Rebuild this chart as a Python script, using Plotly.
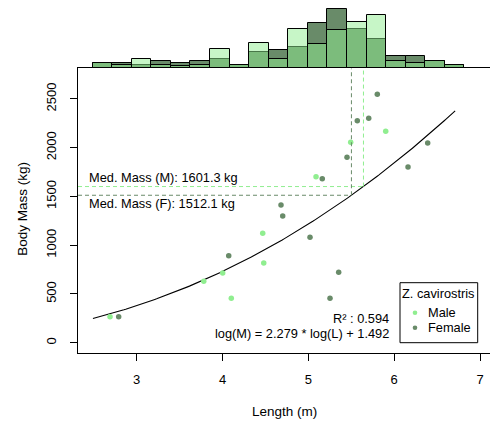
import numpy as np
import plotly.graph_objects as go

# ---------------- data ----------------
male_len = [2.689, 3.781, 4.002, 4.102, 4.468, 4.480, 5.089, 5.493, 5.901]
male_mass = [267, 630, 715, 455, 1122, 817, 1703, 2055, 2168]
female_len = [2.790, 4.072, 4.681, 4.701, 5.019, 5.252, 5.353, 5.162,
              5.450, 5.570, 5.703, 5.803, 6.161, 6.390]
female_mass = [267, 892, 1412, 1299, 1081, 455, 722, 1682,
               1902, 2277, 2302, 2548, 1802, 2048]

# histogram (relative frequencies)
hist_start = 2.487
hist_width = 0.2279
female_freq = [5.0, 5.7, 3.3, 7.0, 5.7, 7.0, 9.0, 3.7, 16.3, 18.0, 21.3,
               45.0, 59.3, 39.7, 29.0, 12.7, 12.7, 7.0, 3.7]
male_freq = [5.0, 3.0, 9.0, 3.0, 2.0, 3.0, 19.3, 3.7, 25.0, 9.0, 39.0,
             24.7, 38.7, 46.0, 53.0, 7.0, 5.0, 7.0, 3.7]

med_mass_m = 1601.3
med_mass_f = 1512.1
fit_slope = 2.279
fit_int = 1.492
r2 = 0.594
fit_len_range = [2.49, 6.71]

x_ticks = [3, 4, 5, 6, 7]
y_ticks = [0, 500, 1000, 1500, 2000, 2500]

# ---------------- styling ----------------
MALE = "#90EE90"
FEMALE = "#698B69"
FONT = "Liberation Sans"
XR = [2.316, 7.116]
YR = [-105.6, 2814]
W, H = 490, 427
ML, MR, MT, MB = 78, 0, 0, 74
PW, PH = W - ML - MR, H - MT - MB
split = (PH - 68.3) / PH


def px(xp):
    return (xp - ML) / PW


def py(yp):
    return (PH - yp) / PH


def fit(L):
    return 10 ** fit_int * np.asarray(L) ** fit_slope


def inv_fit(M):
    return (M / 10 ** fit_int) ** (1 / fit_slope)


fig = go.Figure()

centers = [hist_start + hist_width * (i + 0.5) for i in range(len(female_freq))]
fig.add_trace(go.Bar(x=centers, y=female_freq, width=hist_width,
                     marker=dict(color=FEMALE, line=dict(color="black", width=1)),
                     xaxis="x", yaxis="y2", showlegend=False, hoverinfo="skip"))
fig.add_trace(go.Bar(x=centers, y=male_freq, width=hist_width,
                     marker=dict(color="rgba(144,238,144,0.5)",
                                 line=dict(color="black", width=1)),
                     xaxis="x", yaxis="y2", showlegend=False, hoverinfo="skip"))

# fit curve
Lc = np.linspace(fit_len_range[0], fit_len_range[1], 200)
fig.add_trace(go.Scatter(x=Lc, y=fit(Lc), mode="lines",
                         line=dict(color="black", width=1.1),
                         showlegend=False, hoverinfo="skip"))

fig.add_trace(go.Scatter(x=male_len, y=male_mass, mode="markers",
                         marker=dict(color=MALE, size=5.5), name="Male",
                         showlegend=False))
fig.add_trace(go.Scatter(x=female_len, y=female_mass, mode="markers",
                         marker=dict(color=FEMALE, size=5.5), name="Female",
                         showlegend=False))

shapes = []
Lm = inv_fit(med_mass_m)
Lf = inv_fit(med_mass_f)
dash = "4px,3px"
for L, M, col in [(Lm, med_mass_m, MALE), (Lf, med_mass_f, FEMALE)]:
    shapes.append(dict(type="line", xref="x", yref="y", x0=XR[0], x1=L, y0=M, y1=M,
                       line=dict(color=col, width=1, dash=dash)))
    shapes.append(dict(type="line", xref="x", yref="y", x0=L, x1=L, y0=M, y1=YR[1],
                       line=dict(color=col, width=1, dash=dash)))

# legend box
shapes.append(dict(type="rect", xref="paper", yref="paper",
                   x0=px(400), x1=px(477.7), y0=py(342.7), y1=py(282.7),
                   line=dict(color="black", width=1), fillcolor="white"))
r = 2.3
for yy, col in [(312.7, MALE), (327.7, FEMALE)]:
    shapes.append(dict(type="circle", xref="paper", yref="paper",
                       x0=px(415 - r), x1=px(415 + r), y0=py(yy + r), y1=py(yy - r),
                       line=dict(color=col, width=0), fillcolor=col))

TF = dict(family=FONT, size=12.8, color="black")
ann = [
    dict(x=2.417, y=1696, xref="x", yref="y", text="Med. Mass (M): %.1f kg" % med_mass_m,
         xanchor="left", yanchor="middle", showarrow=False, font=TF),
    dict(x=2.417, y=1430, xref="x", yref="y", text="Med. Mass (F): %.1f kg" % med_mass_f,
         xanchor="left", yanchor="middle", showarrow=False, font=TF),
    dict(x=5.963, y=250, xref="x", yref="y", text="R² : %.3f" % r2,
         xanchor="right", yanchor="middle", showarrow=False, font=TF),
    dict(x=5.963, y=96, xref="x", yref="y",
         text="log(M) = %.3f * log(L) + %.3f" % (fit_slope, fit_int),
         xanchor="right", yanchor="middle", showarrow=False, font=TF),
    dict(x=px(438.8), y=py(293.3), xref="paper", yref="paper", text="Z. cavirostris",
         xanchor="center", yanchor="middle", showarrow=False, font=TF),
    dict(x=px(426), y=py(312.7), xref="paper", yref="paper", text="Male",
         xanchor="left", yanchor="middle", showarrow=False, font=TF),
    dict(x=px(426), y=py(327.7), xref="paper", yref="paper", text="Female",
         xanchor="left", yanchor="middle", showarrow=False, font=TF),
    dict(x=px(284), y=py(411.7), xref="paper", yref="paper", text="Length (m)",
         xanchor="center", yanchor="middle", showarrow=False,
         font=dict(family=FONT, size=13.5, color="black")),
    dict(x=px(21.7), y=py(209), xref="paper", yref="paper", text="Body Mass (kg)",
         xanchor="center", yanchor="middle", showarrow=False, textangle=-90,
         font=dict(family=FONT, size=13.5, color="black")),
]

fig.update_layout(
    width=W, height=H, margin=dict(l=ML, r=MR, t=MT, b=MB),
    paper_bgcolor="white", plot_bgcolor="white",
    barmode="overlay", bargap=0,
    font=dict(family=FONT, size=13, color="black"),
    xaxis=dict(range=XR, tickvals=x_ticks, ticks="outside", ticklen=7,
               tickcolor="black", showline=True, linecolor="black", linewidth=1,
               mirror=True, showgrid=False, zeroline=False, anchor="y",
               ticklabelstandoff=7, tickfont=dict(family=FONT, size=13)),
    yaxis=dict(range=YR, domain=[0, split], tickvals=y_ticks, ticks="outside",
               ticklen=7, tickcolor="black", showline=True, linecolor="black",
               linewidth=1, showgrid=False, zeroline=False, tickangle=-90,
               ticklabelstandoff=9, tickfont=dict(family=FONT, size=13)),
    yaxis2=dict(range=[0, 68.3], domain=[split, 1], visible=False, anchor="x"),
    shapes=shapes, annotations=ann,
)

fig.write_html("out.html")
